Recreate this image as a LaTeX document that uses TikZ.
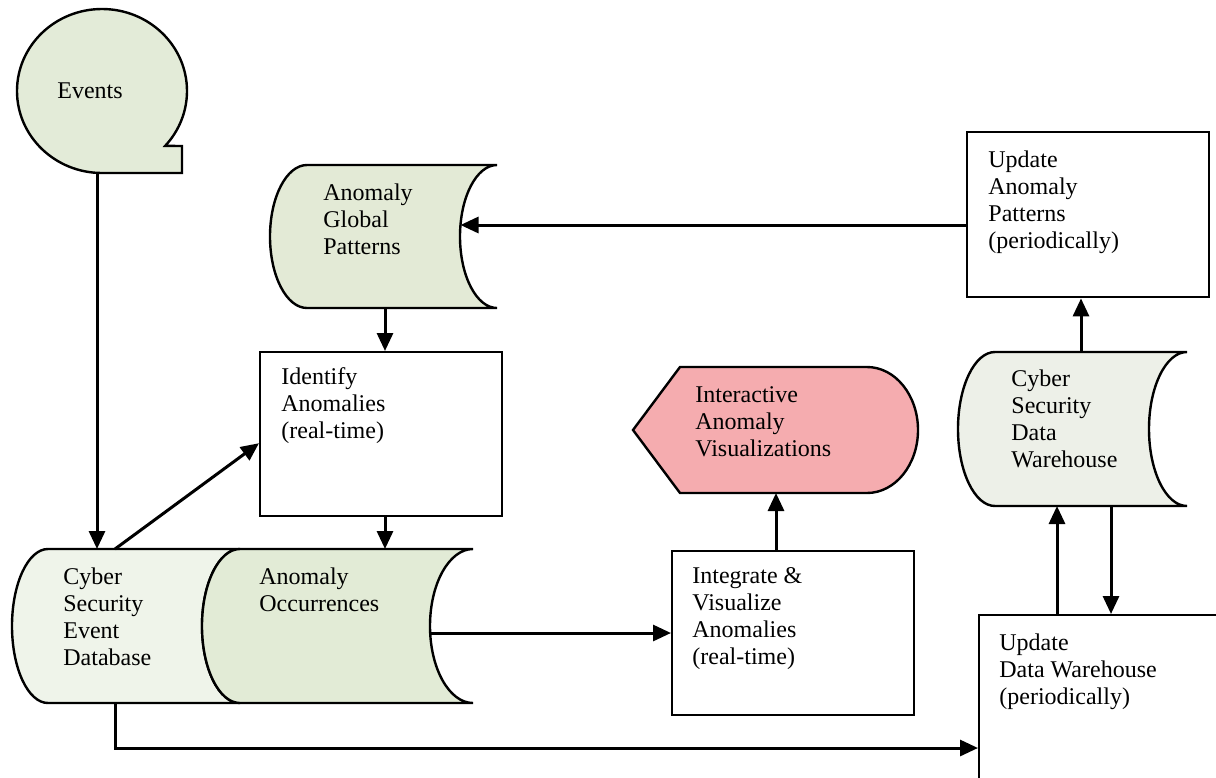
\documentclass[tikz,border=0pt]{standalone}
\usepackage{fontspec}
\setmainfont{Liberation Serif}
\usetikzlibrary{arrows.meta}
\definecolor{eventfill}{HTML}{E3EBD8}
\definecolor{patternfill}{HTML}{E3EAD6}
\definecolor{dbfill}{HTML}{EFF4EA}
\definecolor{occfill}{HTML}{E2EBD6}
\definecolor{dwfill}{HTML}{EDF0E8}
\definecolor{vizfill}{HTML}{F5ACAF}
\begin{document}
\begin{tikzpicture}[x=0.5pt,y=-0.5pt,
  outline/.style={draw=black, line width=1.2pt},
  procbox/.style={draw=black, line width=1.2pt, fill=white, anchor=north west,
    inner sep=0pt, minimum width=121pt, minimum height=82pt},
  lbl/.style={anchor=north west, inner sep=0pt, align=left,
    font=\fontsize{12}{13.6}\selectfont},
  arr/.style={line width=1.5pt, -{Triangle[length=9pt,width=8pt]}}]
\useasboundingbox (0,0) rectangle (1216,777);
\clip (0,0) rectangle (1216,777);

% ---- Events (connector-style source shape)
\path[outline, fill=eventfill] (102,173)
  arc[start angle=90, end angle=402, x radius=85, y radius=82]
  -- (182,146) -- (182,173) -- cycle;
\node[lbl] (ev) at (57,82) {Events};

% ---- Anomaly Global Patterns (stored data)
\path[outline, fill=patternfill] (307,165)
  arc[start angle=270, end angle=90, x radius=37, y radius=71.5]
  -- (497,308)
  arc[start angle=90, end angle=270, x radius=37, y radius=71.5]
  -- cycle;
\node[lbl] (agp) at (323,183) {Anomaly\\Global\\Patterns};

% ---- Cyber Security Event Database (stored data)
\path[outline, fill=dbfill] (48,549)
  arc[start angle=270, end angle=90, x radius=36, y radius=77]
  -- (240,703)
  arc[start angle=90, end angle=270, x radius=38, y radius=77]
  -- cycle;
\node[lbl] (db) at (63,567) {Cyber\\Security\\Event\\Database};

% ---- Anomaly Occurrences (stored data, stacked on the database)
\path[outline, fill=occfill] (240,549)
  arc[start angle=270, end angle=90, x radius=38, y radius=77]
  -- (473,703)
  arc[start angle=90, end angle=270, x radius=43, y radius=77]
  -- cycle;
\node[lbl] (ao) at (259,567) {Anomaly\\Occurrences};

% ---- Cyber Security Data Warehouse (stored data)
\path[outline, fill=dwfill] (995,352)
  arc[start angle=270, end angle=90, x radius=37, y radius=77]
  -- (1187,506)
  arc[start angle=90, end angle=270, x radius=38, y radius=77]
  -- cycle;
\node[lbl] (dw) at (1011,369) {Cyber\\Security\\Data\\Warehouse};

% ---- Interactive Anomaly Visualizations (display)
\path[outline, fill=vizfill] (633,430) -- (680,367) -- (867,367)
  arc[start angle=270, end angle=450, x radius=51, y radius=63]
  -- (680,493) -- cycle;
\node[lbl] (viz) at (695,386) {Interactive\\Anomaly\\Visualizations};

% ---- Process boxes
\node[procbox] (ident) at (259,351) {};
\node[lbl] (ident-t) at (281,367) {Identify\\Anomalies\\(real-time)};

\node[procbox] (integ) at (671,550) {};
\node[lbl] (integ-t) at (692,567) {Integrate \&\\Visualize\\Anomalies\\(real-time)};

\node[procbox, minimum height=82.5pt] (uap) at (966,131) {};
\node[lbl] (uap-t) at (988,150) {Update\\Anomaly\\Patterns\\(periodically)};

\node[procbox, minimum width=118.75pt] (udw) at (978,614) {};
\node[lbl] (udw-t) at (999,633) {Update\\Data Warehouse\\(periodically)};

% ---- Ports on the drawn shapes
\coordinate (ev-out)   at (97,173);
\coordinate (db-in)    at (97,549);
\coordinate (db-up)    at (115,549);
\coordinate (db-out)   at (115,703);
\coordinate (db-route) at (115,748);
\coordinate (agp-in)   at (460.5,225);
\coordinate (agp-out)  at (385,308);
\coordinate (ao-in)    at (385,549);
\coordinate (ao-out)   at (430,633);
\coordinate (viz-in)   at (776,493);
\coordinate (dw-out)   at (1081,352);
\coordinate (dw-in)    at (1057,506);
\coordinate (dw-down)  at (1111,506);

% ---- Connectors
\draw[arr] (ev-out) -- (db-in);
\draw[arr] (db-up) -- ([yshift=-4.5pt]ident.west);
\draw[arr] (agp-out) -- (agp-out |- ident.north);
\draw[arr] (agp-out |- ident.south) -- (ao-in);
\draw[arr] (ao-out) -- (ao-out -| integ.west);
\draw[arr] (viz-in |- integ.north) -- (viz-in);
\draw[arr] (agp-in -| uap.west) -- (agp-in);
\draw[arr] (dw-out) -- (dw-out |- uap.south);
\draw[arr] (dw-in |- udw.north) -- (dw-in);
\draw[arr] (dw-down) -- (dw-down |- udw.north);
\draw[arr] (db-out) -- (db-route) -- (db-route -| udw.west);
\end{tikzpicture}
\end{document}
